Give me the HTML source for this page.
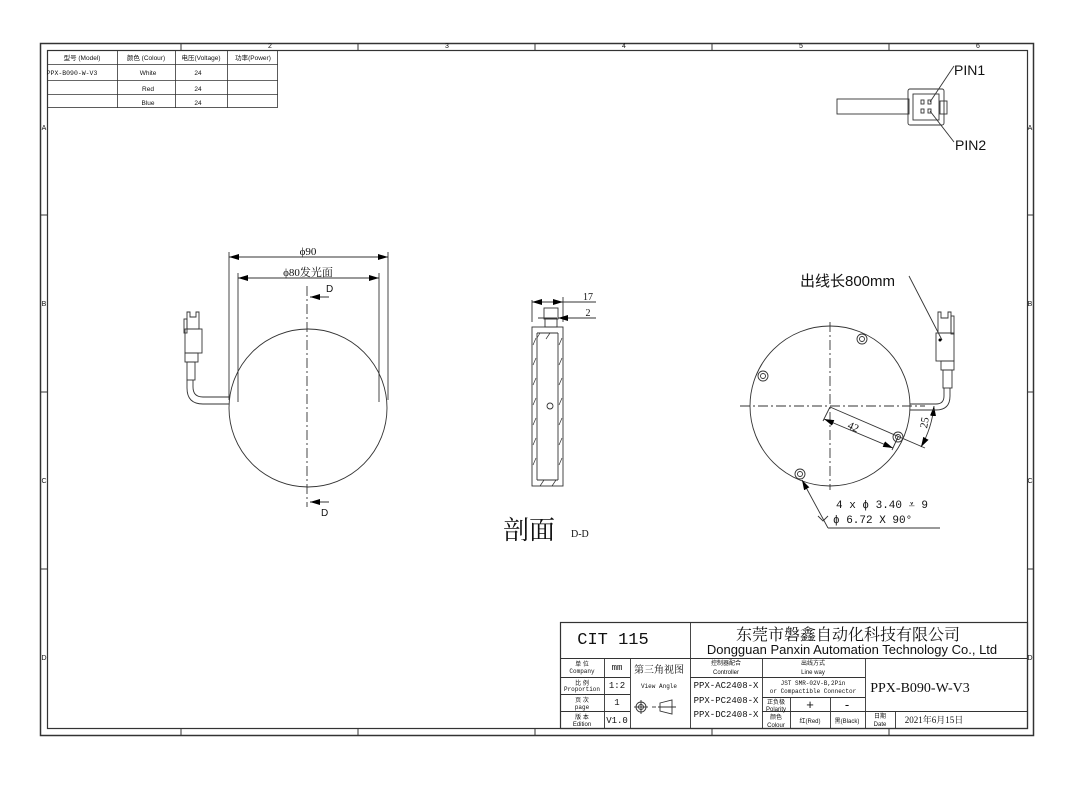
<!DOCTYPE html>
<html><head><meta charset="utf-8"><style>
html,body{margin:0;padding:0;background:#fff}
svg{display:block}
text{font-family:"Liberation Sans","Noto Sans CJK SC",sans-serif;fill:#111}
text.s,.s text{font-family:"Liberation Serif","Noto Serif CJK SC",serif}
text.m,.m text{font-family:"Liberation Mono","Noto Serif CJK SC",monospace}
</style></head><body>
<svg width="1081" height="798" viewBox="0 0 1081 798" xmlns="http://www.w3.org/2000/svg">
<defs>
<marker id="ar" markerWidth="10" markerHeight="6" refX="10" refY="3" orient="auto-start-reverse" markerUnits="userSpaceOnUse"><path d="M0,0 L10,3 L0,6 z" fill="#000"/></marker>
</defs>
<g fill="none" stroke="#333">
<rect x="40.5" y="43.5" width="993" height="692" stroke-width="1.5"/>
<rect x="47.5" y="50.5" width="980" height="678" stroke-width="1.2"/>
<g stroke-width="1">
<line x1="181" y1="43" x2="181" y2="50"/><line x1="358" y1="43" x2="358" y2="50"/><line x1="535" y1="43" x2="535" y2="50"/><line x1="712" y1="43" x2="712" y2="50"/><line x1="889" y1="43" x2="889" y2="50"/>
<line x1="181" y1="729" x2="181" y2="735"/><line x1="358" y1="729" x2="358" y2="735"/><line x1="535" y1="729" x2="535" y2="735"/><line x1="712" y1="729" x2="712" y2="735"/><line x1="889" y1="729" x2="889" y2="735"/>
<line x1="40" y1="215" x2="47" y2="215"/><line x1="40" y1="392" x2="47" y2="392"/><line x1="40" y1="569" x2="47" y2="569"/>
<line x1="1027" y1="215" x2="1033" y2="215"/><line x1="1027" y1="392" x2="1033" y2="392"/><line x1="1027" y1="569" x2="1033" y2="569"/>
</g>
<g stroke-width="0.8">
<rect x="47.5" y="50.5" width="230" height="57"/>
<line x1="47" y1="64.5" x2="278" y2="64.5"/><line x1="47" y1="80.5" x2="278" y2="80.5"/><line x1="47" y1="94.5" x2="278" y2="94.5"/>
<line x1="117.5" y1="50" x2="117.5" y2="108"/><line x1="175.5" y1="50" x2="175.5" y2="108"/><line x1="227.5" y1="50" x2="227.5" y2="108"/>
</g>
</g>
<g font-size="7">
<text x="270" y="48" text-anchor="middle">2</text><text x="447" y="48" text-anchor="middle">3</text><text x="624" y="48" text-anchor="middle">4</text><text x="801" y="48" text-anchor="middle">5</text><text x="978" y="48" text-anchor="middle">6</text>
<text x="44" y="130" text-anchor="middle">A</text><text x="44" y="306" text-anchor="middle">B</text><text x="44" y="483" text-anchor="middle">C</text><text x="44" y="660" text-anchor="middle">D</text>
<text x="1030" y="130" text-anchor="middle">A</text><text x="1030" y="306" text-anchor="middle">B</text><text x="1030" y="483" text-anchor="middle">C</text><text x="1030" y="660" text-anchor="middle">D</text>
</g>
<g font-size="6.5" text-anchor="middle">
<text x="82" y="60">型号 (Model)</text><text x="146" y="60">颜色 (Colour)</text><text x="201" y="60">电压(Voltage)</text><text x="253" y="60">功率(Power)</text>
<text x="72" y="75" class="m">PPX-B090-W-V3</text><text x="148" y="75">White</text><text x="198" y="75">24</text>
<text x="148" y="91">Red</text><text x="198" y="91">24</text>
<text x="148" y="105">Blue</text><text x="198" y="105">24</text>
</g>

<!-- LEFT VIEW -->
<g fill="none" stroke="#333" stroke-width="0.9">
<circle cx="308" cy="408" r="79"/>
<line x1="229" y1="252" x2="229" y2="400"/><line x1="388" y1="252" x2="388" y2="400"/>
<line x1="238" y1="273" x2="238" y2="402"/><line x1="379" y1="273" x2="379" y2="402"/>
<line x1="229" y1="257" x2="388" y2="257" marker-start="url(#ar)" marker-end="url(#ar)"/>
<line x1="238" y1="278" x2="379" y2="278" marker-start="url(#ar)" marker-end="url(#ar)"/>
<line x1="307" y1="286" x2="307" y2="507" stroke-dasharray="10,3,2,3"/>
<line x1="329" y1="297" x2="310" y2="297" marker-end="url(#ar)"/>
<line x1="329" y1="502" x2="310" y2="502" marker-end="url(#ar)"/>
<path d="M229,397 H203 Q193,397 193,387 V380 M229,404 H203 Q187,404 187,388 V380"/>
<rect x="187" y="362" width="8" height="18"/>
<rect x="185" y="353" width="13" height="9"/>
<rect x="185" y="329" width="17" height="24"/>
<path d="M187,321 V312 H190 V317 H196 V312 H199 V329 H187 Z"/>
<rect x="184" y="319" width="3" height="14"/>
</g>
<g font-size="11" text-anchor="middle" class="s"><text x="308" y="255">ϕ90</text><text x="308" y="276">ϕ80发光面</text></g>
<text x="326" y="292" font-size="10">D</text><text x="321" y="516" font-size="10">D</text>

<!-- SECTION VIEW -->
<g fill="none" stroke="#333" stroke-width="0.9">
<rect x="532" y="327" width="31" height="159"/>
<line x1="537" y1="333" x2="537" y2="480"/><line x1="558" y1="333" x2="558" y2="480"/>
<line x1="537" y1="333" x2="558" y2="333"/><line x1="537" y1="480" x2="558" y2="480"/>
<rect x="544" y="308" width="14" height="11"/><rect x="545" y="319" width="12" height="8"/>
<line x1="532" y1="300" x2="532" y2="322"/><line x1="563" y1="297" x2="563" y2="322"/>
<line x1="532" y1="302" x2="563" y2="302" marker-start="url(#ar)" marker-end="url(#ar)"/>
<line x1="563" y1="302" x2="596" y2="302"/>
<line x1="538" y1="318" x2="557" y2="318"/>
<line x1="575" y1="318" x2="558" y2="318" marker-end="url(#ar)"/><line x1="575" y1="318" x2="596" y2="318"/>
<g stroke-width="0.7">
<path d="M533,345 l3,-7 M533,365 l3,-7 M533,385 l3,-7 M533,405 l3,-7 M533,425 l3,-7 M533,445 l3,-7 M533,465 l3,-7"/>
<path d="M559,345 l3,-7 M559,365 l3,-7 M559,385 l3,-7 M559,405 l3,-7 M559,425 l3,-7 M559,445 l3,-7 M559,465 l3,-7"/>
<path d="M540,333 l-3,5 M550,333 l-4,6 M540,486 l4,-6 M552,486 l4,-6"/>
</g>
<circle cx="550" cy="406" r="3"/>
</g>
<text x="588" y="300" font-size="10" class="s" text-anchor="middle">17</text>
<text x="588" y="316" font-size="10" class="s" text-anchor="middle">2</text>
<text x="503" y="539" font-size="26" class="s">剖面</text><text x="571" y="537" font-size="10" class="s">D-D</text>

<!-- RIGHT VIEW -->
<g fill="none" stroke="#333" stroke-width="0.9">
<circle cx="830" cy="406" r="80"/>
<line x1="740" y1="406" x2="925" y2="406" stroke-dasharray="10,3,2,3"/>
<line x1="830" y1="322" x2="830" y2="490" stroke-dasharray="10,3,2,3"/>
<circle cx="862" cy="339" r="5"/><circle cx="862" cy="339" r="2.5"/>
<circle cx="763" cy="376" r="5"/><circle cx="763" cy="376" r="2.5"/>
<circle cx="898" cy="437" r="5"/><circle cx="898" cy="437" r="2.5"/>
<circle cx="800" cy="474" r="5"/><circle cx="800" cy="474" r="2.5"/>
<line x1="830" y1="407" x2="823" y2="421"/><line x1="898" y1="437" x2="892" y2="450"/>
<line x1="824" y1="419" x2="893" y2="448" marker-start="url(#ar)" marker-end="url(#ar)"/>
<line x1="830" y1="407" x2="925" y2="448"/>
<path d="M934,406 A104,104 0 0 1 921,447" marker-start="url(#ar)" marker-end="url(#ar)"/>
<path d="M910,404 H936 Q944,404 944,396 V388 M910,410 H936 Q950,410 950,396 V388"/>
<rect x="943" y="370" width="9" height="18"/>
<rect x="941" y="361" width="13" height="9"/>
<rect x="936" y="333" width="18" height="28"/>
<path d="M938,324 V312 H941 V318 H948 V312 H951 V333 H938 Z"/>
<rect x="951" y="316" width="3" height="18"/>
<line x1="909" y1="276" x2="942" y2="340"/>
<line x1="828" y1="528" x2="802" y2="480" marker-end="url(#ar)"/>
<line x1="828" y1="528" x2="940" y2="528"/>
<path d="M818,516 l5,5 l5,-5"/>
</g>
<circle cx="940" cy="340" r="1.5" fill="#000"/>
<text x="846" y="432" font-size="11" class="s" transform="rotate(24 856 432)">42</text>
<text x="923" y="432" font-size="11" class="s" transform="rotate(-80 923 428)">25</text>
<text x="836" y="508" font-size="11" class="m">4 x ϕ 3.40 ⩡ 9</text>
<text x="833" y="523" font-size="11" class="m">ϕ 6.72 X 90°</text>
<text x="800" y="286" font-size="15">出线长800mm</text>

<!-- PIN connector -->
<g fill="none" stroke="#333" stroke-width="0.9">
<rect x="837" y="99" width="72" height="15"/>
<rect x="908" y="89" width="36" height="36" rx="2"/>
<rect x="913" y="94" width="26" height="26"/>
<rect x="940" y="101" width="7" height="13"/>
<rect x="921" y="100" width="3" height="4"/><rect x="928" y="100" width="3" height="4"/>
<rect x="921" y="109" width="3" height="4"/><rect x="928" y="109" width="3" height="4"/>
<line x1="930" y1="102" x2="954" y2="66"/><line x1="930" y1="111" x2="954" y2="142"/>
</g>
<text x="954" y="75" font-size="14">PIN1</text><text x="955" y="150" font-size="14">PIN2</text>

<!-- TITLE BLOCK -->
<g fill="none" stroke="#333" stroke-width="0.9">
<rect x="560.5" y="622.5" width="467" height="106" stroke-width="1.2"/>
<line x1="560" y1="658.5" x2="1027" y2="658.5"/>
<line x1="690.5" y1="622" x2="690.5" y2="729"/>
<line x1="604.5" y1="659" x2="604.5" y2="729"/><line x1="630.5" y1="659" x2="630.5" y2="729"/>
<line x1="560" y1="677.5" x2="630" y2="677.5"/><line x1="560" y1="694.5" x2="630" y2="694.5"/><line x1="560" y1="711.5" x2="630" y2="711.5"/>
<line x1="690" y1="677.5" x2="865" y2="677.5"/>
<line x1="762.5" y1="659" x2="762.5" y2="729"/><line x1="865.5" y1="659" x2="865.5" y2="729"/>
<line x1="762" y1="697.5" x2="865" y2="697.5"/><line x1="762" y1="711.5" x2="1027" y2="711.5"/>
<line x1="790.5" y1="697" x2="790.5" y2="729"/><line x1="830.5" y1="697" x2="830.5" y2="729"/>
<line x1="895.5" y1="711" x2="895.5" y2="729"/>
<circle cx="641" cy="707" r="5"/><circle cx="641" cy="707" r="2.5"/><line x1="634" y1="707" x2="648" y2="707"/><line x1="641" y1="700" x2="641" y2="714"/>
<line x1="652" y1="707" x2="656" y2="707"/>
<path d="M660,703 L672,700 V714 L660,711 Z M658,707 H676"/>
</g>
<text x="613" y="644" font-size="17" class="m" text-anchor="middle">CIT 115</text>
<text x="848" y="640" font-size="16" text-anchor="middle" class="s">东莞市磐鑫自动化科技有限公司</text>
<text x="852" y="654" font-size="13" text-anchor="middle">Dongguan Panxin Automation Technology Co., Ltd</text>
<g font-size="6" text-anchor="middle">
<text x="582" y="666">单 位</text><text x="582" y="673" class="m">Company</text>
<text x="582" y="685">比 例</text><text x="582" y="691" class="m">Proportion</text>
<text x="582" y="702">页 次</text><text x="582" y="709" class="m">page</text>
<text x="582" y="719">版 本</text><text x="582" y="726">Edition</text>
<text x="726" y="665">控制器配合</text><text x="726" y="674">Controller</text>
<text x="813" y="665">出线方式</text><text x="813" y="674">Line way</text>
<text x="813" y="685" class="m">JST SMR-02V-B,2Pin</text><text x="813" y="693" class="m">or Compactible Connector</text>
<text x="776" y="704">正负极</text><text x="776" y="711">Polarity</text>
<text x="776" y="719">颜色</text><text x="776" y="727">Colour</text>
<text x="810" y="723">红(Red)</text><text x="847" y="723">黑(Black)</text>
<text x="880" y="718">日期</text><text x="880" y="726">Date</text>
<text x="659" y="688" class="m">View Angle</text>
</g>
<g class="m" font-size="9" text-anchor="middle">
<text x="617" y="670">mm</text><text x="617" y="688">1:2</text><text x="617" y="705">1</text><text x="617" y="723">V1.0</text>
<text x="726" y="688">PPX-AC2408-X</text><text x="726" y="703">PPX-PC2408-X</text><text x="726" y="717">PPX-DC2408-X</text>
</g>
<text x="934" y="723" font-size="9" class="s" text-anchor="middle">2021年6月15日</text>
<text x="659" y="673" font-size="10" text-anchor="middle" class="s">第三角视图</text>
<text x="810" y="709" font-size="13" text-anchor="middle">+</text><text x="847" y="709" font-size="13" text-anchor="middle">-</text>
<text x="920" y="692" font-size="14" class="s" text-anchor="middle">PPX-B090-W-V3</text>
</svg>
</body></html>
